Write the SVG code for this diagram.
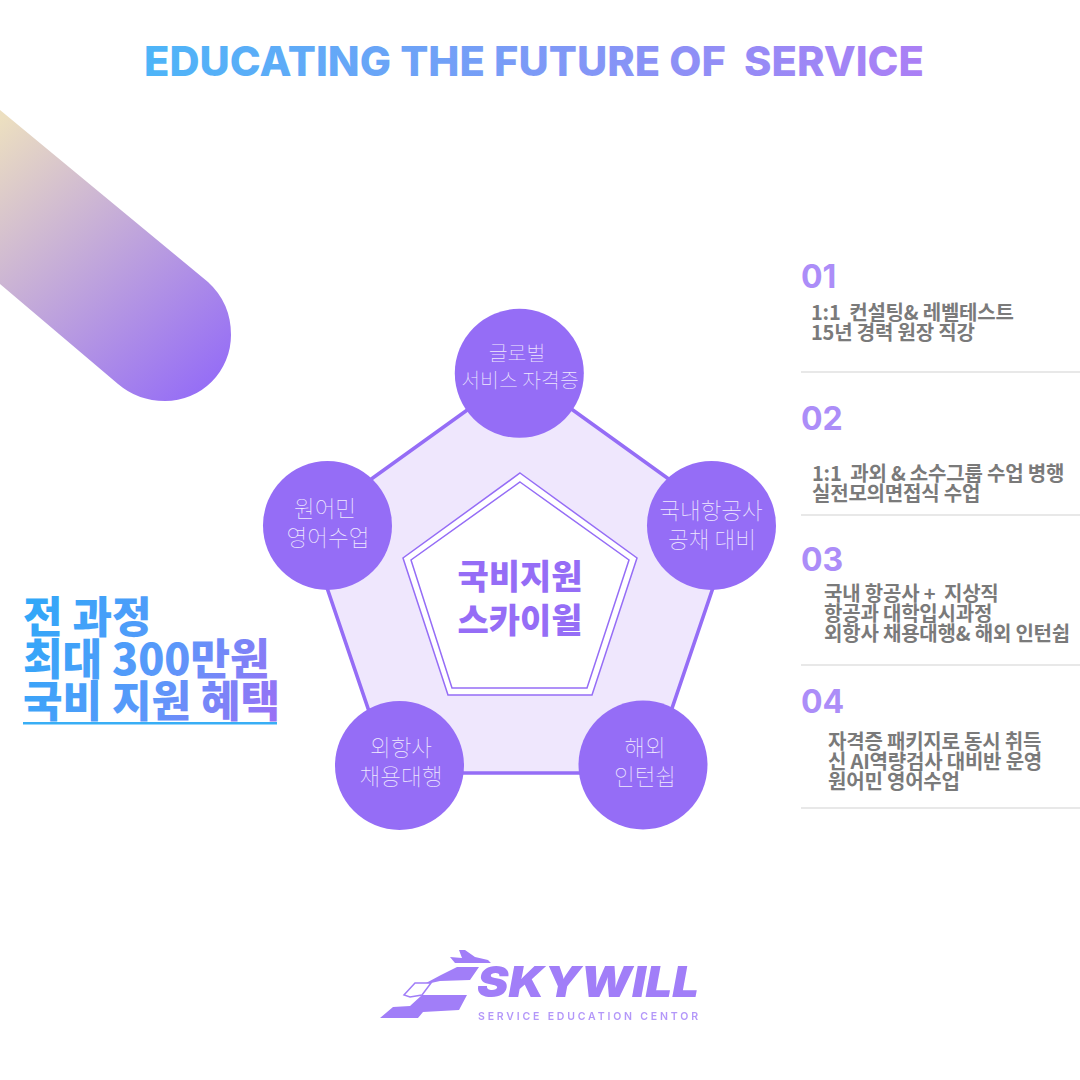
<svg xmlns="http://www.w3.org/2000/svg" width="1080" height="1080" viewBox="0 0 1080 1080">
<defs>
<linearGradient id="gt" gradientUnits="userSpaceOnUse" x1="145" y1="0" x2="923" y2="0"><stop offset="0" stop-color="#4db5f8"/><stop offset="1" stop-color="#ab7ff5"/></linearGradient>
<linearGradient id="gl" gradientUnits="userSpaceOnUse" x1="24" y1="600" x2="277" y2="720"><stop offset="0" stop-color="#2fa8f8"/><stop offset="0.55" stop-color="#5a98fa"/><stop offset="1" stop-color="#9a70f5"/></linearGradient>
<linearGradient id="gs" gradientUnits="userSpaceOnUse" x1="0" y1="120" x2="225" y2="375"><stop offset="0" stop-color="#ecdfc0"/><stop offset="1" stop-color="#956df6"/></linearGradient>
<filter id="soft" x="-5%" y="-5%" width="110%" height="110%"><feGaussianBlur stdDeviation="0.7"/></filter>
</defs>
<style>
.num{font-size:32px;font-weight:700;fill:#ac8df8;font-family:"Inter","Noto Sans",sans-serif}
.desc{font-size:20px;font-weight:700;fill:#7a7a7a;letter-spacing:-0.2px;font-family:"Noto Sans CJK KR",sans-serif}
.rule{stroke:#e8e8e8;stroke-width:2}
.circ{fill:#956df6}
.lab{font-size:22.5px;font-weight:100;fill:#f0eafe;text-anchor:middle;font-family:"Noto Sans CJK KR",sans-serif}
.big{font-size:43px;font-weight:900;fill:url(#gl);font-family:"Noto Sans CJK KR",sans-serif}
.mid{font-size:34px;font-weight:900;fill:#956df6;text-anchor:middle;font-family:"Noto Sans CJK KR",sans-serif}
.logo{fill:#a17ef8;font-family:"Inter","Noto Sans",sans-serif}
</style>
<rect width="1080" height="1080" fill="#ffffff"/>
<text id="title" x="144" y="76" font-family="Inter, 'Noto Sans', sans-serif" font-size="41" font-weight="800" fill="url(#gt)" xml:space="preserve" textLength="780" lengthAdjust="spacingAndGlyphs">EDUCATING THE FUTURE OF  SERVICE</text>
<path id="swoosh" d="M0 110L208 282Q231 303 231 335A66 66 0 0 1 165 401Q138 401 118 384L0 284Z" fill="url(#gs)"/>
<g id="connectors">
<polygon points="520,372 734,526 650,773 390,773 306,526" fill="#efe7fd" stroke="#956df6" stroke-width="3.600"/>
</g>
<g id="center">
<polygon points="520,473 637,558 592,695 448,695 403,558" fill="#ffffff" stroke="#956df6" stroke-width="1.500"/>
<polygon points="520,482 629,560 587,688 452,688 411,560" fill="#ffffff" stroke="#956df6" stroke-width="1.500"/>
<text class="mid" x="520" y="589">국비지원</text>
<text class="mid" x="520" y="633">스카이윌</text>
</g>
<g id="node1"><circle class="circ" cx="519.300" cy="373.300" r="64.500"/><text class="lab" x="520"><tspan x="517" y="361" style="font-size:20.5px">글로벌</tspan><tspan x="520" y="388" style="font-size:20.5px">서비스 자격증</tspan></text></g>
<g id="node2"><circle class="circ" cx="327.500" cy="525.500" r="64.500"/><text class="lab"><tspan x="325" y="517">원어민</tspan><tspan x="328" y="546">영어수업</tspan></text></g>
<g id="node3"><circle class="circ" cx="711.500" cy="525.500" r="64.500"/><text class="lab"><tspan x="711" y="519">국내항공사</tspan><tspan x="712" y="548">공채 대비</tspan></text></g>
<g id="node4"><circle class="circ" cx="399.500" cy="765.500" r="64.500"/><text class="lab"><tspan x="401" y="756">외항사</tspan><tspan x="401" y="785">채용대행</tspan></text></g>
<g id="node5"><circle class="circ" cx="643" cy="765" r="64.500"/><text class="lab"><tspan x="645" y="756">해외</tspan><tspan x="645" y="785">인턴쉽</tspan></text></g>
<g id="headline">
<text class="big" xml:space="preserve"><tspan x="23" y="633">전 과정</tspan><tspan x="23" y="675">최대 300만원</tspan><tspan x="23" y="717">국비 지원 혜택</tspan></text>
<rect x="23" y="722" width="254" height="2.500" fill="#38aef5"/>
</g>
<g id="item1"><text class="num" x="801" y="288">01</text><text class="desc" xml:space="preserve"><tspan x="811" y="320">1:1  컨설팅&amp; 레벨테스트</tspan><tspan x="811" y="340">15년 경력 원장 직강</tspan></text><line class="rule" x1="801" y1="372" x2="1080" y2="372"/></g>
<g id="item2"><text class="num" x="801" y="430">02</text><text class="desc" xml:space="preserve"><tspan x="812" y="481">1:1  과외 &amp; 소수그룹 수업 병행</tspan><tspan x="812" y="501">실전모의면접식 수업</tspan></text><line class="rule" x1="801" y1="515" x2="1080" y2="515"/></g>
<g id="item3"><text class="num" x="801" y="571">03</text><text class="desc" xml:space="preserve"><tspan x="824" y="601">국내 항공사 +  지상직</tspan><tspan x="824" y="621">항공과 대학입시과정</tspan><tspan x="824" y="641">외항사 채용대행&amp; 해외 인턴쉽</tspan></text><line class="rule" x1="801" y1="665" x2="1080" y2="665"/></g>
<g id="item4"><text class="num" x="801" y="713">04</text><text class="desc" xml:space="preserve"><tspan x="828" y="749">자격증 패키지로 동시 취득</tspan><tspan x="828" y="769">신 AI역량검사 대비반 운영</tspan><tspan x="828" y="789">원어민 영어수업</tspan></text><line class="rule" x1="801" y1="808" x2="1080" y2="808"/></g>
<g id="logo" filter="url(#soft)">
<path class="logo" d="M459 950L465 950L475 957L488 960L491 963L455 963L450 957L462 958Z"/>
<path class="logo" d="M457 967L479 967L470 980L440 981L431 983L426 983L441 975Z"/>
<path d="M415 983L431 983L422 995L410 997L404 995Z" fill="#ffffff" stroke="#a17ef8" stroke-width="1.500"/>
<path class="logo" d="M422 995L467 995L459 1010L423 1012L418 1018L380 1018L393 1007L410 1006Z"/>
<text class="logo" x="477" y="997" font-size="43" font-weight="900" font-style="italic" textLength="222" lengthAdjust="spacingAndGlyphs">SKYWILL</text>
<text class="logo" x="478" y="1020" font-size="10.500" font-weight="600" opacity="0.8" textLength="220">SERVICE EDUCATION CENTOR</text>
</g>
</svg>
